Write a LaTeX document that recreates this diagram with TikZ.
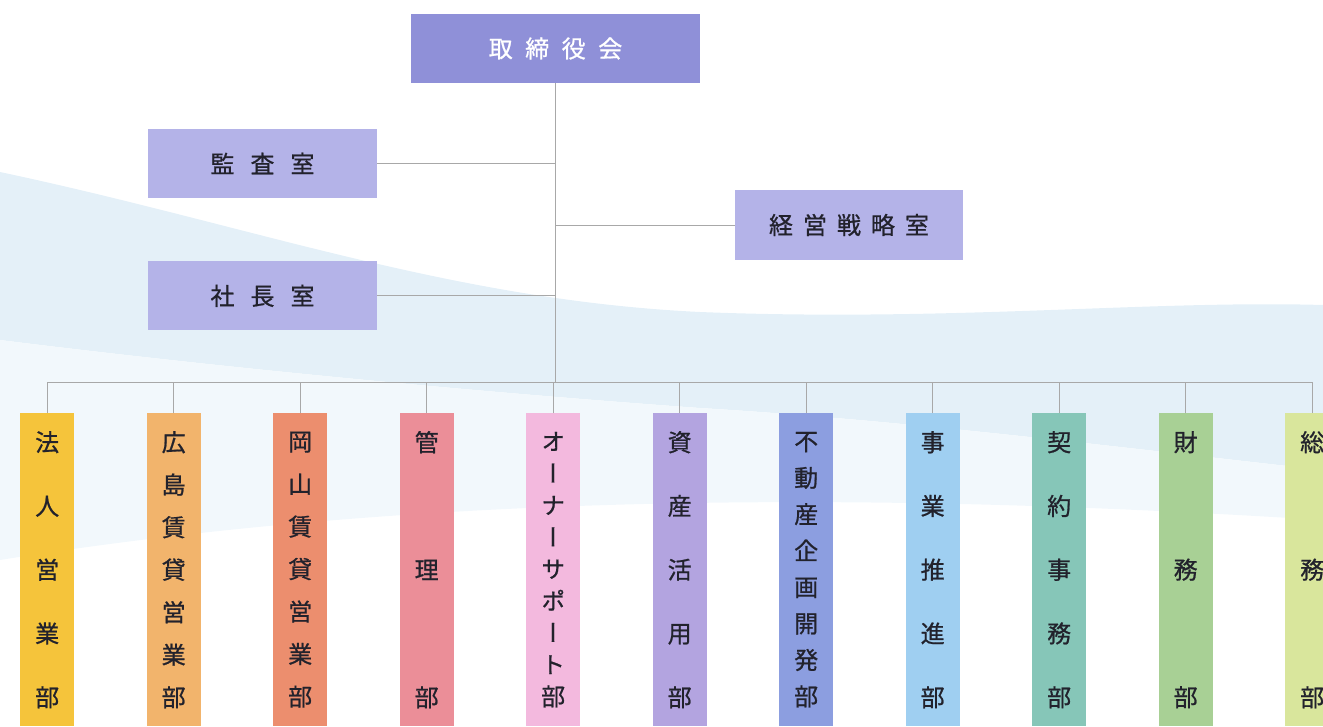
\documentclass[tikz,border=0pt]{standalone}
\usepackage{fontspec}
\newfontfamily\jp{Noto Sans CJK JP}[FakeBold=0.8]
\newfontfamily\jptate{Noto Sans CJK JP}[RawFeature=+vert, FakeBold=0.8]
\usetikzlibrary{matrix, positioning}
\definecolor{boardblue}{HTML}{8F90D8}
\definecolor{officelav}{HTML}{B4B3E8}
\definecolor{hojin}{HTML}{F5C43B}
\definecolor{hiroshima}{HTML}{F2B46C}
\definecolor{okayama}{HTML}{EC8E6E}
\definecolor{kanri}{HTML}{EB8E98}
\definecolor{owner}{HTML}{F3B9DE}
\definecolor{shisan}{HTML}{B3A4E0}
\definecolor{fudosan}{HTML}{8C9EE0}
\definecolor{jigyo}{HTML}{9FCFF1}
\definecolor{keiyaku}{HTML}{86C6B8}
\definecolor{zaimu}{HTML}{A8D095}
\definecolor{somu}{HTML}{D9E69C}
\definecolor{linegray}{HTML}{A8A8A8}
\definecolor{textdark}{HTML}{22222C}
\definecolor{bgblue}{HTML}{E4F0F8}
\definecolor{bgpale}{HTML}{F2F8FC}
\newcommand{\tatetext}[1]{\vbox{\let\\\cr\halign{\hfil##\hfil\cr#1\crcr}}}
\tikzset{office/.style={fill=officelav, minimum width=229pt, minimum height=69pt, inner sep=0pt, text=textdark, font=\jp\fontsize{24}{24}\selectfont},
  deptbox/.style={anchor=center, minimum width=54pt, minimum height=313pt, inner sep=0pt, text=textdark},
  chars/.style={font=\jptate\fontsize{24}{#1}\selectfont},
  conn/.style={draw=linegray, line width=1pt},
  swoosh/.style={fill=#1, draw=none}}

\begin{document}
\begin{tikzpicture}[x=1pt, y=-1pt]
    \useasboundingbox (0,0) rectangle (1323,726);
    \fill[swoosh=bgblue] (0,172) .. controls (250,225) and (450,300) .. (700,312) .. controls (950,322) and (1150,300) .. (1323,305) -- (1323,470) .. controls (1100,445) and (900,420) .. (700,408) .. controls (450,390) and (200,365) .. (0,340) -- cycle;
    \fill[swoosh=bgpale] (0,340) .. controls (200,365) and (450,390) .. (700,408) .. controls (900,420) and (1100,445) .. (1323,470) -- (1323,520) .. controls (1000,500) and (500,480) .. (0,560) -- cycle;

    \node[office, fill=boardblue, text=white, minimum width=289pt] (board) at (555.5,48.5) {取\hspace{12.5pt}締\hspace{12.5pt}役\hspace{12.5pt}会};
    \node[office] (kansa) at (262.5,163.5) {監\hspace{16pt}査\hspace{16pt}室};
    \node[office, below=63pt of kansa] (shacho) {社\hspace{16pt}長\hspace{16pt}室};
    \node[office, minimum width=228pt, minimum height=70pt] (keiei) at (849,225) {経\hspace{10pt}営\hspace{10pt}戦\hspace{10pt}略\hspace{10pt}室};

    \matrix (dept) [%
      matrix of nodes,
      anchor=north west,
      inner sep=0pt,
      column sep=72.5pt,
      nodes={deptbox}
        ] at (20,413)
      {
        |[fill=hojin, chars=63.75]| \tatetext{法\\人\\営\\業\\部} &
        |[fill=hiroshima, chars=42.5]| \tatetext{広\\島\\賃\\貸\\営\\業\\部} &
        |[fill=okayama, chars=42.5]| \tatetext{岡\\山\\賃\\貸\\営\\業\\部} &
        |[fill=kanri, chars=127.5]| \tatetext{管\\理\\部} &
        |[fill=owner, chars=31.875]| \tatetext{オ\\ー\\ナ\\ー\\サ\\ポ\\ー\\ト\\部} &
        |[fill=shisan, chars=63.75]| \tatetext{資\\産\\活\\用\\部} &
        |[fill=fudosan, chars=36.43]| \tatetext{不\\動\\産\\企\\画\\開\\発\\部} &
        |[fill=jigyo, chars=63.75]| \tatetext{事\\業\\推\\進\\部} &
        |[fill=keiyaku, chars=63.75]| \tatetext{契\\約\\事\\務\\部} &
        |[fill=zaimu, chars=127.5]| \tatetext{財\\務\\部} &
        |[fill=somu, chars=127.5]| \tatetext{総\\務\\部} \\
      };

    \coordinate (bus) at (0,382);
    \draw[conn] (board.south) -- (board.south |- bus);
    \draw[conn] (kansa.east) -- (kansa.east -| board.south);
    \draw[conn] (shacho.east) -- (shacho.east -| board.south);
    \draw[conn] (keiei.west) -- (keiei.west -| board.south);
    \draw[conn] (dept-1-1.north |- bus) -- (dept-1-11.north |- bus);
    \foreach \i in {1,...,11}
      \draw[conn] (dept-1-\i.north) -- (dept-1-\i.north |- bus);
\end{tikzpicture}
\end{document}
